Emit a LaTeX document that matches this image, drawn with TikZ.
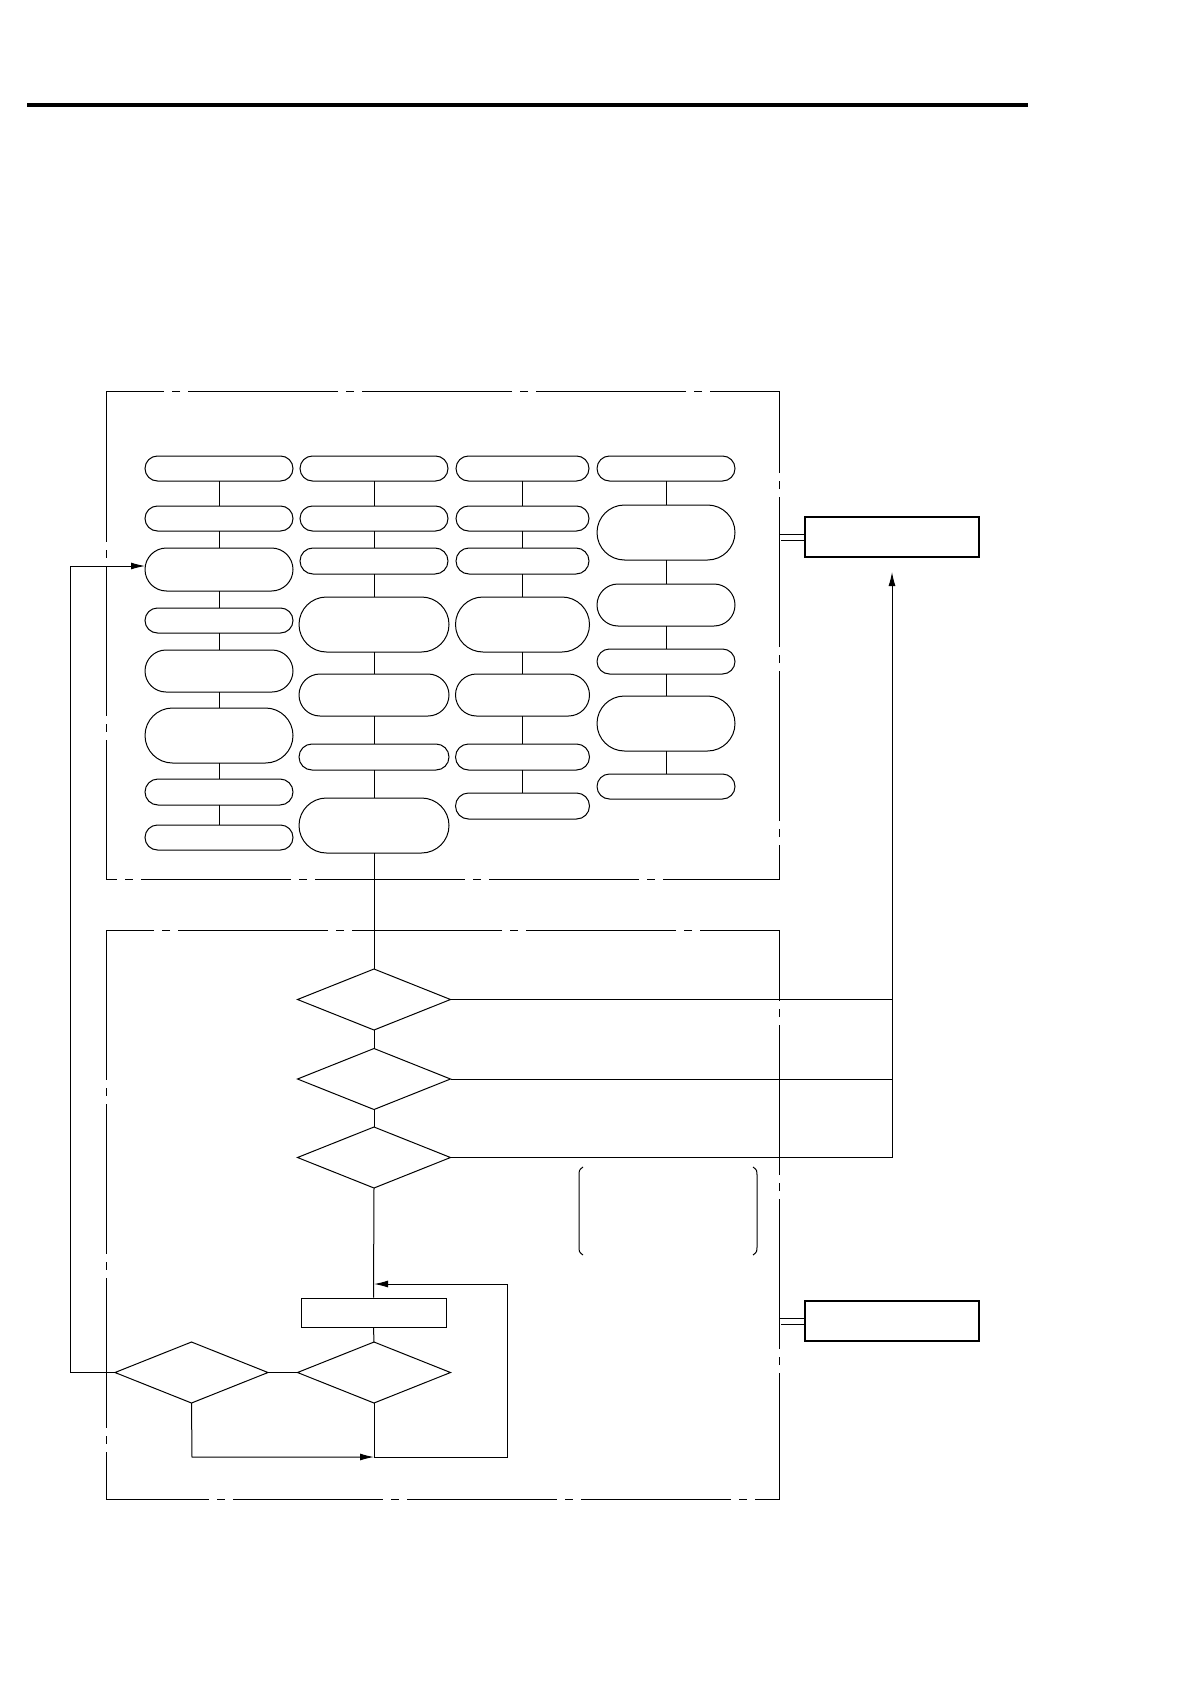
\documentclass[tikz,border=0pt]{standalone}
\usetikzlibrary{shapes.misc,shapes.geometric,arrows.meta}
\begin{document}
\begin{tikzpicture}[x=0.5pt,y=-0.5pt,line width=0.5pt,
  stad/.style={draw,rounded rectangle,inner sep=0pt,outer sep=0pt},
  dia/.style={draw,diamond,minimum width=76.5pt,minimum height=30.5pt,inner sep=0pt,outer sep=0pt},
  frm/.style={draw,dash pattern=on 75pt off 4pt on 4pt off 4pt},
  tip/.style={-{Latex[length=7pt,width=3.5pt]}},
  outbox/.style={draw,line width=1.3pt,minimum width=87pt,minimum height=20pt,inner sep=0pt}]
\useasboundingbox (0,0) rectangle (1190,1684);
\draw[line width=2pt] (27,105) -- (1028,105);
\draw[frm] (106,392) rectangle (779,879);
\draw[frm] (106,930) rectangle (779,1499);
\newcommand\stbox[4]{\node[stad,minimum width=#3*0.5pt,minimum height=#4*0.5pt] (#1) at (#2) {};}
% column 1
\stbox{a1}{219,468.5}{148}{25}\stbox{a2}{219,518.5}{148}{25}\stbox{a3}{219,569.5}{148}{43}
\stbox{a4}{219,620.5}{148}{25}\stbox{a5}{219,671}{148}{42}\stbox{a6}{219,735.5}{148}{55}
\stbox{a7}{219,792}{148}{26}\stbox{a8}{219,837.5}{148}{25}
% column 2
\stbox{b1}{374,468.5}{148}{25}\stbox{b2}{374,518.5}{148}{25}\stbox{b3}{374,561}{148}{26}
\stbox{b4}{374,624.5}{150}{55}\stbox{b5}{374,695}{150}{42}\stbox{b6}{374,757}{150}{26}
\stbox{b7}{374,825.5}{150}{55}
% column 3
\stbox{c1}{522.5,468.5}{133}{25}\stbox{c2}{522.5,518.5}{133}{25}\stbox{c3}{522.5,561}{133}{26}
\stbox{c4}{522.5,624.5}{134}{55}\stbox{c5}{522.5,695}{134}{42}\stbox{c6}{522.5,757}{134}{26}
\stbox{c7}{522.5,806}{134}{26}
% column 4
\stbox{d1}{666,468.5}{138}{25}\stbox{d2}{666,532.5}{138}{55}\stbox{d3}{666,605}{138}{42}
\stbox{d4}{666,661.5}{138}{25}\stbox{d5}{666,723.5}{138}{55}\stbox{d6}{666,786.5}{138}{25}
\foreach \p/\q in {a1/a2,a2/a3,a3/a4,a4/a5,a5/a6,a6/a7,a7/a8,
  b1/b2,b2/b3,b3/b4,b4/b5,b5/b6,b6/b7,
  c1/c2,c2/c3,c3/c4,c4/c5,c5/c6,c6/c7,
  d1/d2,d2/d3,d3/d4,d4/d5,d5/d6} \draw (\p.south) -- (\q.north);
% right boxes
\node[outbox] (o1) at (892,537) {};
\node[outbox] (o2) at (892,1321) {};
\draw (779,534) -- (o1.west|-0,534) (781,540) -- (o1.west|-0,540);
\draw (779,1318) -- (o2.west|-0,1318) (781,1324) -- (o2.west|-0,1324);
% diamonds
\node[dia] (q1) at (374,999.5) {};
\node[dia] (q2) at (374,1079) {};
\node[dia] (q3) at (374,1157.5) {};
\node[draw,inner sep=0pt,minimum width=72.5pt,minimum height=14.5pt] (r) at (373.5,1312.5) {};
\node[dia] (q4) at (374,1372.5) {};
\node[dia] (q5) at (191.5,1372.5) {};
\draw (b7.south) -- (q1.north);
\draw (q1.south) -- (q2.north);
\draw (q2.south) -- (q3.north);
\coordinate (j) at (892,1157.5);
\draw (q3.east) -- (j);
\draw (q2.east) -- (892,1079);
\draw (q1.east) -- (892,999.5);
\draw[tip] (j) -- (892,572);
\draw (q3.south) -- (r.north);
\coordinate (m) at (374,1284);
\draw[tip] (374,1457) -- (507,1457) -- (507,1284) -- (m);
\draw (r.south) -- (q4.north);
\draw (q4.south) -- (374,1457);
\draw (q5.east) -- (q4.west);
\draw[tip] (q5.south) -- (192,1457) -- (374,1457);
\draw[tip] (q5.west) -- (70,1372.5) -- (70,566) -- (a3.west|-0,566);
% brackets
\draw (583,1167) .. controls (579,1170) .. (579,1177) -- (579,1245) .. controls (579,1252) .. (583,1255);
\draw (753,1167) .. controls (757,1170) .. (757,1177) -- (757,1245) .. controls (757,1252) .. (753,1255);
\end{tikzpicture}
\end{document}
